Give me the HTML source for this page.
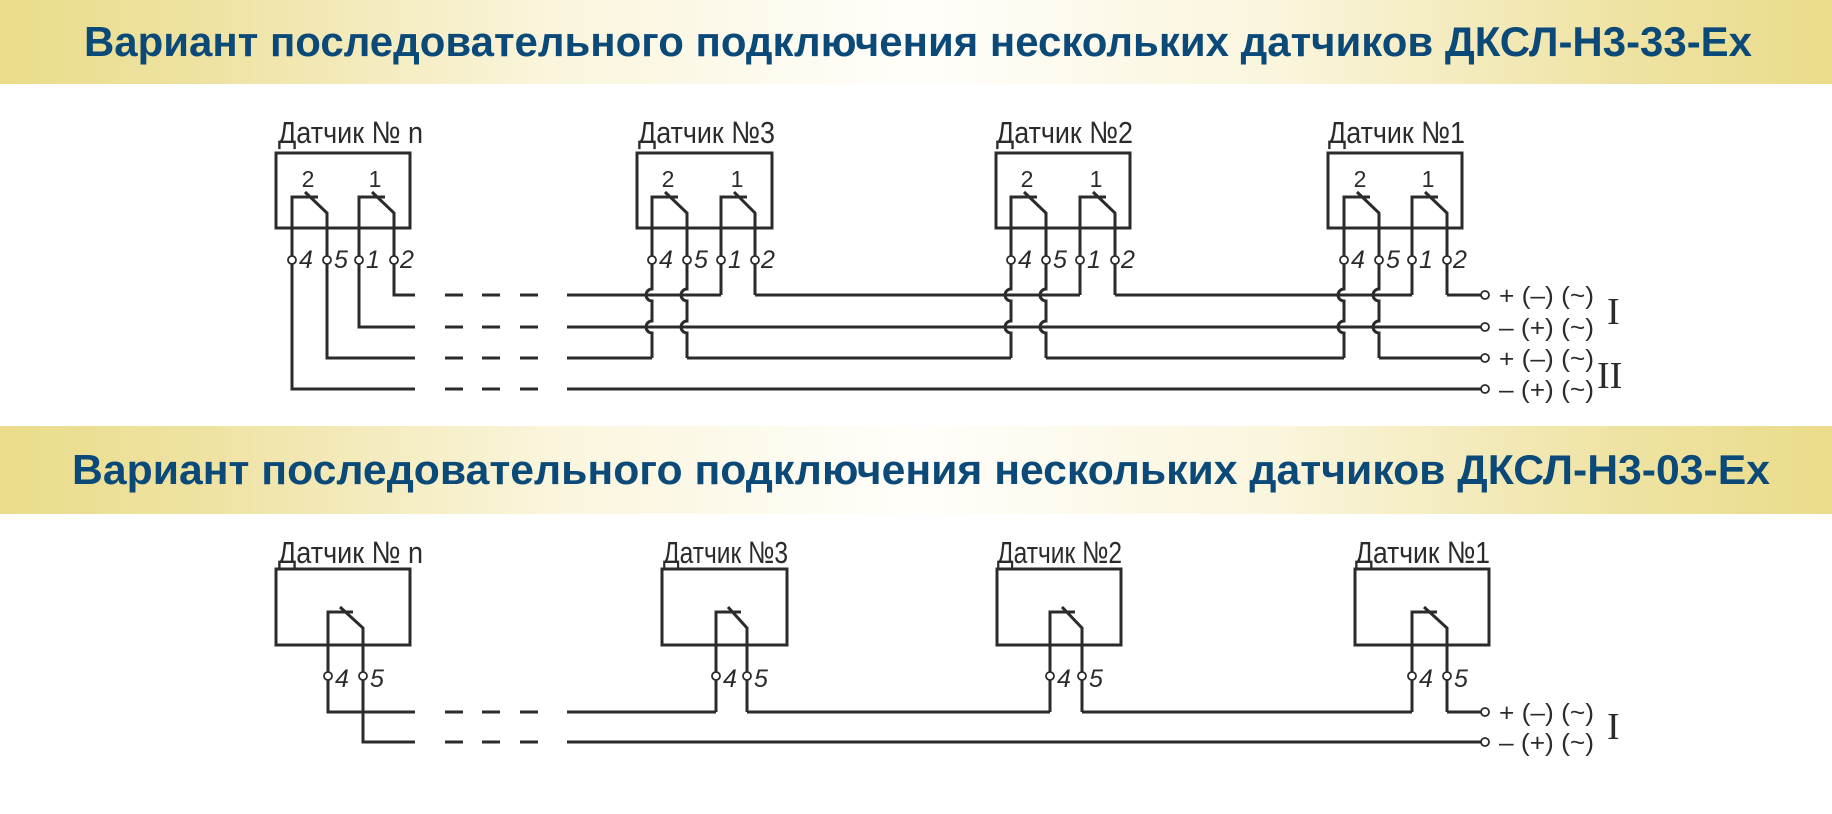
<!DOCTYPE html>
<html><head><meta charset="utf-8"><style>
html,body{margin:0;padding:0;background:#fff;}
body{width:1832px;height:814px;position:relative;overflow:hidden;}
.ban{position:absolute;left:0;width:1832px;background:linear-gradient(90deg,#eadc8a 0%,#efe3a4 12%,#faf5dc 30%,#fffefa 50%,#faf5dc 70%,#efe3a4 88%,#eadc8a 100%);}
svg{position:absolute;left:0;top:0;}
</style></head><body>
<div class="ban" style="top:0;height:84px"></div>
<div class="ban" style="top:426px;height:88px"></div>
<svg width="1832" height="814" viewBox="0 0 1832 814" xmlns="http://www.w3.org/2000/svg">
<g font-family="Liberation Sans, Arial, sans-serif" font-weight="bold" font-size="42" fill="#0b4a78">
<text x="84" y="56" textLength="1668" lengthAdjust="spacingAndGlyphs">Вариант последовательного подключения нескольких датчиков ДКСЛ-Н3-33-Ex</text>
<text x="72" y="484" textLength="1698" lengthAdjust="spacingAndGlyphs">Вариант последовательного подключения нескольких датчиков ДКСЛ-Н3-03-Ex</text>
</g>
<g font-family="Liberation Sans, Arial, sans-serif" font-size="31" fill="#2b2b2b">
<text x="278" y="143" textLength="145" lengthAdjust="spacingAndGlyphs">Датчик № n</text>
<text x="638" y="143" textLength="137" lengthAdjust="spacingAndGlyphs">Датчик №3</text>
<text x="996" y="143" textLength="137" lengthAdjust="spacingAndGlyphs">Датчик №2</text>
<text x="1328" y="143" textLength="137" lengthAdjust="spacingAndGlyphs">Датчик №1</text>
<text x="278" y="563" textLength="145" lengthAdjust="spacingAndGlyphs">Датчик № n</text>
<text x="663" y="563" textLength="125" lengthAdjust="spacingAndGlyphs">Датчик №3</text>
<text x="997" y="563" textLength="125" lengthAdjust="spacingAndGlyphs">Датчик №2</text>
<text x="1355" y="563" textLength="135" lengthAdjust="spacingAndGlyphs">Датчик №1</text>
</g>
<g font-family="Liberation Sans, Arial, sans-serif" font-size="23" fill="#2b2b2b" text-anchor="middle">
<text x="308" y="187">2</text><text x="375" y="187">1</text>
<text x="668" y="187">2</text><text x="737" y="187">1</text>
<text x="1027" y="187">2</text><text x="1096" y="187">1</text>
<text x="1360" y="187">2</text><text x="1428" y="187">1</text>
</g>
<g font-family="Liberation Sans, Arial, sans-serif" font-style="italic" font-size="25" fill="#2b2b2b">
<text x="299" y="268">4</text><text x="334" y="268">5</text><text x="366" y="268">1</text><text x="400" y="268">2</text>
<text x="659" y="268">4</text><text x="694" y="268">5</text><text x="728" y="268">1</text><text x="761" y="268">2</text>
<text x="1018" y="268">4</text><text x="1053" y="268">5</text><text x="1087" y="268">1</text><text x="1121" y="268">2</text>
<text x="1351" y="268">4</text><text x="1386" y="268">5</text><text x="1419" y="268">1</text><text x="1453" y="268">2</text>
<text x="335" y="687">4</text><text x="370" y="687">5</text>
<text x="723" y="687">4</text><text x="754" y="687">5</text>
<text x="1057" y="687">4</text><text x="1089" y="687">5</text>
<text x="1419" y="687">4</text><text x="1454" y="687">5</text>
</g>
<g fill="none" stroke="#2b2b2b" stroke-width="3">
<rect x="276" y="153" width="134" height="75"/>
<rect x="637" y="153" width="135" height="75"/>
<rect x="996" y="153" width="134" height="75"/>
<rect x="1328" y="153" width="134" height="75"/>
<path d="M292,256V197H318M305,192L327,213V256M359,256V197H385M372,192L394,213V256"/>
<path d="M652,256V197H678M665,192L687,213V256M721,256V197H747M734,192L755,213V256"/>
<path d="M1011,256V197H1037M1024,192L1046,213V256M1080,256V197H1106M1093,192L1115,213V256"/>
<path d="M1344,256V197H1370M1357,192L1379,213V256M1412,256V197H1438M1425,192L1447,213V256"/>
<path d="M394,264V295H415M359,264V327H415M327,264V358H415M292,264V389H415"/>
<path d="M445,295H463M482,295H500M520,295H538M445,327H463M482,327H500M520,327H538M445,358H463M482,358H500M520,358H538M445,389H463M482,389H500M520,389H538"/>
<path d="M567,295H721M755,295H1080M1115,295H1412M1447,295H1481"/>
<path d="M567,327H1481M567,389H1481"/>
<path d="M567,358H652M687,358H1011M1046,358H1344M1379,358H1481"/>
<path d="M652,264V289A6,6 0 0 0 652,301V321A6,6 0 0 0 652,333V358M687,264V289A6,6 0 0 0 687,301V321A6,6 0 0 0 687,333V358M721,264V295M755,264V295"/>
<path d="M1011,264V289A6,6 0 0 0 1011,301V321A6,6 0 0 0 1011,333V358M1046,264V289A6,6 0 0 0 1046,301V321A6,6 0 0 0 1046,333V358M1080,264V295M1115,264V295"/>
<path d="M1344,264V289A6,6 0 0 0 1344,301V321A6,6 0 0 0 1344,333V358M1379,264V289A6,6 0 0 0 1379,301V321A6,6 0 0 0 1379,333V358M1412,264V295M1447,264V295"/>
<rect x="276" y="569" width="134" height="76"/>
<rect x="662" y="569" width="125" height="76"/>
<rect x="997" y="569" width="124" height="76"/>
<rect x="1355" y="569" width="134" height="76"/>
<path d="M328,672V612H353M340,607L363,628V672"/>
<path d="M716,672V612H741M728,607L747,628V672"/>
<path d="M1050,672V612H1075M1062,607L1082,628V672"/>
<path d="M1412,672V612H1437M1424,607L1447,628V672"/>
<path d="M328,680V712H415M363,680V742H415"/>
<path d="M445,712H463M482,712H500M520,712H538M445,742H463M482,742H500M520,742H538"/>
<path d="M567,712H716M747,712H1050M1082,712H1412M1447,712H1481M567,742H1481"/>
<path d="M716,680V712M747,680V712M1050,680V712M1082,680V712M1412,680V712M1447,680V712"/>
</g>
<g fill="#fff" stroke="#2b2b2b" stroke-width="1.8">
<circle cx="292" cy="260" r="4"/><circle cx="327" cy="260" r="4"/><circle cx="359" cy="260" r="4"/><circle cx="394" cy="260" r="4"/>
<circle cx="652" cy="260" r="4"/><circle cx="687" cy="260" r="4"/><circle cx="721" cy="260" r="4"/><circle cx="755" cy="260" r="4"/>
<circle cx="1011" cy="260" r="4"/><circle cx="1046" cy="260" r="4"/><circle cx="1080" cy="260" r="4"/><circle cx="1115" cy="260" r="4"/>
<circle cx="1344" cy="260" r="4"/><circle cx="1379" cy="260" r="4"/><circle cx="1412" cy="260" r="4"/><circle cx="1447" cy="260" r="4"/>
<circle cx="1485" cy="295" r="4"/><circle cx="1485" cy="327" r="4"/><circle cx="1485" cy="358" r="4"/><circle cx="1485" cy="389" r="4"/>
<circle cx="328" cy="676" r="4"/><circle cx="363" cy="676" r="4"/>
<circle cx="716" cy="676" r="4"/><circle cx="747" cy="676" r="4"/>
<circle cx="1050" cy="676" r="4"/><circle cx="1082" cy="676" r="4"/>
<circle cx="1412" cy="676" r="4"/><circle cx="1447" cy="676" r="4"/>
<circle cx="1485" cy="712" r="4"/><circle cx="1485" cy="742" r="4"/>
</g>
<g font-family="Liberation Sans, Arial, sans-serif" font-size="25" fill="#2b2b2b">
<text x="1499" y="304" textLength="95" lengthAdjust="spacingAndGlyphs">+ (–) (~)</text>
<text x="1499" y="336" textLength="95" lengthAdjust="spacingAndGlyphs">– (+) (~)</text>
<text x="1499" y="367" textLength="95" lengthAdjust="spacingAndGlyphs">+ (–) (~)</text>
<text x="1499" y="398" textLength="95" lengthAdjust="spacingAndGlyphs">– (+) (~)</text>
<text x="1499" y="721" textLength="95" lengthAdjust="spacingAndGlyphs">+ (–) (~)</text>
<text x="1499" y="751" textLength="95" lengthAdjust="spacingAndGlyphs">– (+) (~)</text>
</g>
<g font-family="Liberation Serif, serif" font-size="38" fill="#2b2b2b">
<text x="1607" y="324">I</text>
<text x="1597" y="388">II</text>
<text x="1607" y="739">I</text>
</g>
</svg>
</body></html>
